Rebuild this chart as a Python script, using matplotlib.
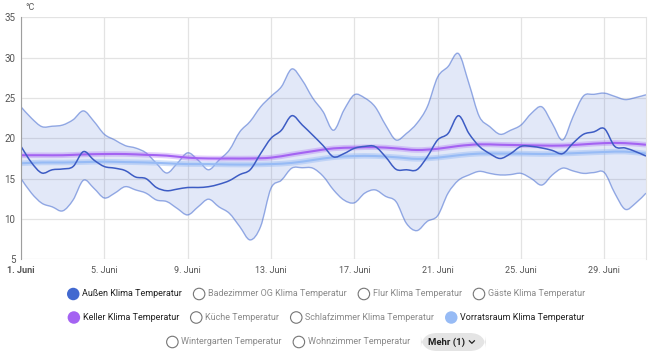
import numpy as np
import matplotlib
matplotlib.use("Agg")
import matplotlib.pyplot as plt
from matplotlib.path import Path
from matplotlib.patches import PathPatch, Ellipse, FancyBboxPatch

plt.rcParams["font.family"] = ["Roboto", "DejaVu Sans"]

# --- Data (°C), half-day steps from 1. Juni 00:00 ---
days_half = np.arange(0, 30.01, 0.5)

aussen = [19.0, 17.0, 15.7, 16.1, 16.2, 16.5, 18.35, 17.3, 16.5, 16.3,
          16.0, 15.2, 15.0, 13.9, 13.5, 13.7, 13.9, 13.9, 14.0, 14.3,
          14.75, 15.5, 16.1, 18.1, 20.0, 21.0, 22.8, 21.65, 20.4, 19.1,
          17.7, 18.1, 18.76, 19.0, 18.97, 17.7, 16.16, 16.1, 16.1, 17.7,
          19.8, 20.6, 22.8, 20.6, 19.0, 18.1, 17.5, 18.1, 19.0, 19.0,
          18.8, 18.5, 18.1, 19.4, 20.5, 20.8, 21.2, 19.0, 18.8, 18.35, 17.8]

aussen_max = [23.9, 22.5, 21.45, 21.5, 21.65, 22.3, 23.4, 22.1, 20.5, 19.8,
              19.1, 18.8, 18.2, 16.9, 15.7, 16.9, 18.2, 17.3, 16.1, 17.3,
              18.55, 20.8, 22.1, 23.9, 25.2, 26.4, 28.6, 27.2, 25.0, 23.3,
              21.0, 23.5, 25.4, 25.0, 23.9, 21.65, 19.8, 20.6, 21.85, 23.9,
              27.6, 28.9, 30.5, 26.8, 22.7, 21.45, 20.5, 21.0, 21.65, 23.1,
              23.9, 21.85, 19.8, 22.7, 25.25, 25.45, 25.6, 25.2, 24.8, 25.05, 25.4]

aussen_min = [15.0, 13.2, 11.95, 11.5, 11.0, 12.35, 14.8, 13.8, 12.6, 13.2,
              14.0, 13.6, 13.2, 12.35, 12.15, 11.3, 10.5, 11.5, 12.45, 11.5,
              10.7, 9.05, 7.4, 9.05, 13.8, 14.8, 16.3, 16.35, 16.3, 15.3,
              13.6, 12.35, 12.0, 13.2, 13.6, 12.8, 12.15, 9.45, 8.55, 9.7,
              10.4, 13.2, 14.8, 15.45, 15.9, 15.65, 15.45, 15.5, 15.65, 15.0,
              14.2, 15.45, 16.3, 15.95, 15.65, 15.75, 15.75, 13.2, 11.2, 11.95, 13.2]

# daily means
days = np.arange(0, 31)
keller = [17.9, 17.9, 17.9, 18.0, 18.05, 18.05, 17.95, 17.85, 17.6, 17.5,
          17.5, 17.5, 17.6, 18.0, 18.4, 18.75, 18.85, 18.9, 18.75, 18.55,
          18.7, 19.05, 19.25, 19.2, 19.15, 19.1, 19.1, 19.25, 19.4, 19.4, 19.2]
vorrat = [16.9, 17.0, 17.0, 17.05, 17.1, 17.05, 17.0, 16.9, 16.8, 16.8,
          16.75, 16.75, 16.8, 16.95, 17.3, 17.65, 17.8, 17.8, 17.65, 17.45,
          17.6, 17.9, 18.1, 18.1, 18.1, 18.05, 18.1, 18.2, 18.3, 18.35, 18.1]

tick_days = [0, 4, 8, 12, 16, 20, 24, 28]
tick_labels = ["1. Juni", "5. Juni", "9. Juni", "13. Juni",
               "17. Juni", "21. Juni", "25. Juni", "29. Juni"]

legend_rows = [
    [("Außen Klima Temperatur", "#4269d0"), ("Badezimmer OG Klima Temperatur", None),
     ("Flur Klima Temperatur", None), ("Gäste Klima Temperatur", None)],
    [("Keller Klima Temperatur", "#a463f2"), ("Küche Temperatur", None),
     ("Schlafzimmer Klima Temperatur", None), ("Vorratsraum Klima Temperatur", "#97bbf5")],
    [("Wintergarten Temperatur", None), ("Wohnzimmer Temperatur", None)],
]


def smooth_verts(x, y):
    """Bezier (Catmull-Rom) segments through the data points."""
    p = np.column_stack([x, y]).astype(float)
    n = len(p)
    verts, codes = [p[0]], [Path.MOVETO]
    for i in range(n - 1):
        p0 = p[max(i - 1, 0)]
        p1, p2 = p[i], p[i + 1]
        p3 = p[min(i + 2, n - 1)]
        verts += [p1 + (p2 - p0) / 6, p2 - (p3 - p1) / 6, p2]
        codes += [Path.CURVE4] * 3
    return verts, codes


def smooth_line(ax, x, y, **kw):
    v, c = smooth_verts(x, y)
    ax.add_patch(PathPatch(Path(v, c), facecolor="none", **kw))


def smooth_band(ax, x, lo, hi, **kw):
    v1, c1 = smooth_verts(x, hi)
    v2, c2 = smooth_verts(x[::-1], lo[::-1])
    c2[0] = Path.LINETO
    v = v1 + v2 + [v1[0]]
    c = c1 + c2 + [Path.CLOSEPOLY]
    ax.add_patch(PathPatch(Path(v, c), **kw))


W, H = 652, 353
fig = plt.figure(figsize=(W / 100, H / 100), dpi=100)
ax = fig.add_axes([21 / W, 1 - 259.3 / H, (646 - 21) / W, (259.3 - 17.3) / H])

blue = "#4269d0"
smooth_band(ax, days_half, np.array(aussen_min), np.array(aussen_max),
            facecolor=blue, alpha=0.15, lw=0)
smooth_line(ax, days_half, aussen_max, edgecolor=blue, alpha=0.55, lw=1.0)
smooth_line(ax, days_half, aussen_min, edgecolor=blue, alpha=0.55, lw=1.0)

smooth_line(ax, days, vorrat, edgecolor="#97bbf5", lw=4, alpha=0.45)
smooth_line(ax, days, vorrat, edgecolor="#97bbf5", lw=1.5)
smooth_line(ax, days, keller, edgecolor="#a463f2", lw=4, alpha=0.3)
smooth_line(ax, days, keller, edgecolor="#a463f2", lw=1.5)
smooth_line(ax, days_half, aussen, edgecolor="#3d5cc4", lw=1.1)

ax.set_xlim(0, 30)
ax.set_ylim(5, 35)
ax.set_yticks(range(5, 36, 5))
ax.set_xticks(tick_days)
ax.set_xticklabels(tick_labels)
ax.get_xticklabels()[0].set_fontweight("bold")
ax.get_xticklabels()[0].set_color("#212121")
ax.tick_params(axis="both", length=0, colors="#555555")
ax.tick_params(axis="x", pad=5, labelsize=6.5)
ax.tick_params(axis="y", pad=4, labelsize=7)
ax.grid(True, color="#e3e3e3", lw=0.9)
ax.set_axisbelow(True)
for s in ["top", "bottom"]:
    ax.spines[s].set_visible(False)
ax.spines["left"].set_color("#9e9e9e")
ax.spines["right"].set_color("#e3e3e3")
fig.text(25 / W, 1 - 8 / H, "°C", fontsize=6.5, color="#555555", va="center")

# --- Legend ---
row_y = [294, 317.5, 342]
fs = 6.5
dot = 12.5      # marker diameter, px
pad_txt = 2.5   # marker edge -> text
gap = 11        # text end -> next marker
renderer = fig.canvas.get_renderer()
for r, items in enumerate(legend_rows):
    y = 1 - row_y[r] / H
    texts, widths = [], []
    for label, col in items:
        t = fig.text(0, y, label, fontsize=fs, va="center",
                     color="#212121" if col else "#8a8a8a")
        widths.append(t.get_window_extent(renderer).width)
        texts.append(t)
    extra = (gap + 65) if r == 2 else 0
    total = sum(dot + pad_txt + w for w in widths) + gap * (len(items) - 1) + extra
    x = (W - total) / 2
    for (label, col), t, w in zip(items, texts, widths):
        cx = x + dot / 2
        if col:
            fig.add_artist(Ellipse((cx / W, y), dot / W, dot / H, facecolor=col,
                                   edgecolor="none", transform=fig.transFigure))
        else:
            fig.add_artist(Ellipse((cx / W, y), (dot - 1) / W, (dot - 1) / H,
                                   facecolor="none", edgecolor="#757575", lw=0.8,
                                   transform=fig.transFigure))
        t.set_x((x + dot + pad_txt) / W)
        x += dot + pad_txt + w + gap
    if r == 2:
        bx, bw, bh = x, 65, 18
        fig.add_artist(FancyBboxPatch((bx / W, 1 - (row_y[2] + bh / 2) / H), bw / W, bh / H,
                                      boxstyle="round,pad=0,rounding_size=0.025",
                                      facecolor="#e4e4e4", edgecolor="none",
                                      transform=fig.transFigure, mutation_aspect=W / H))
        fig.text((bx + 7) / W, y, "Mehr (1)", fontsize=fs + 0.3, va="center",
                 color="#212121", fontweight="bold")
        chx, chy = bx + 51, row_y[2]
        fig.add_artist(plt.Line2D([(chx - 2.5) / W, chx / W, (chx + 2.5) / W],
                                  [1 - (chy - 1.2) / H, 1 - (chy + 1.3) / H,
                                   1 - (chy - 1.2) / H],
                                  color="#212121", lw=0.9,
                                  transform=fig.transFigure))

fig.savefig("out.png", dpi=100)
